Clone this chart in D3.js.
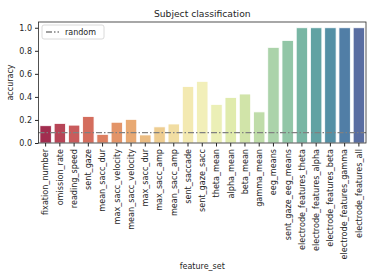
<!DOCTYPE html>
<html>
<head>
<script src="https://cdn.jsdelivr.net/npm/d3@7"></script>
<style>
body { margin: 0; background: white; }
text { font-family: "DejaVu Sans", sans-serif; fill: #262626; }
</style>
</head>
<body>
<script>

var width = 374,
    height = 280;

var features = ["fixation_number", "omission_rate", "reading_speed", "sent_gaze",
                "mean_sacc_dur", "max_sacc_velocity", "mean_sacc_velocity", "max_sacc_dur",
                "max_sacc_amp", "mean_sacc_amp", "sent_saccade", "sent_gaze_sacc",
                "theta_mean", "alpha_mean", "beta_mean", "gamma_mean", "eeg_means",
                "sent_gaze_eeg_means", "electrode_features_theta", "electrode_features_alpha",
                "electrode_features_beta", "electrode_features_gamma", "electrode_features_all"];

var accuracy = [0.15, 0.17, 0.155, 0.23, 0.075, 0.18, 0.205, 0.07, 0.14, 0.165,
                0.49, 0.535, 0.335, 0.395, 0.425, 0.27, 0.83, 0.89,
                1.0, 1.0, 1.0, 1.0, 1.0];

var randomLevel = 0.09;
var yTicks = [0, 0.2, 0.4, 0.6, 0.8, 1.0];

// plot box (note: "top" is reserved on window, so use plot* names)
var plotLeft = 38.5, plotRight = 366, plotTop = 22, plotBottom = 143;

var svg = d3.select("body").append("svg")
            .attr("width", width)
            .attr("height", height);

var x = d3.scaleBand()
          .domain(features)
          .range([plotLeft, plotRight])
          .paddingInner(0.2)
          .paddingOuter(0.1);

var y = d3.scaleLinear()
          .domain([0, 1.05])
          .range([plotBottom, plotTop]);

// seaborn style palette: Spectral sampled, then desaturated
function barColor(i) {
  var c = d3.hsl(d3.interpolateSpectral((i + 1) / (features.length + 1)));
  c.s = c.s * 0.75;
  return c.formatHex();
}

svg.append("g")
   .selectAll("rect")
   .data(accuracy)
   .enter()
   .append("rect")
   .attr("x", function (d, i) { return x(features[i]); })
   .attr("y", function (d) { return y(d); })
   .attr("width", x.bandwidth())
   .attr("height", function (d) { return y(0) - y(d); })
   .style("fill", function (d, i) { return barColor(i); })
   .style("stroke", "white")
   .style("stroke-width", 0.8);

// random baseline
svg.append("line")
   .attr("x1", plotLeft).attr("x2", plotRight)
   .attr("y1", y(randomLevel)).attr("y2", y(randomLevel))
   .style("stroke", "#808080")
   .style("stroke-width", 1.3)
   .style("stroke-dasharray", "6,2,1.5,2");

// axes
var yAxis = d3.axisLeft(y).tickValues(yTicks).tickFormat(d3.format(".1f")).tickSize(3.5).tickPadding(3);
var gy = svg.append("g").attr("transform", "translate(" + plotLeft + ",0)").call(yAxis);
gy.select(".domain").remove();
gy.selectAll("text").style("font-size", "8px");
gy.selectAll("line").style("stroke", "#262626");

var xAxis = d3.axisBottom(x).tickSize(3.5).tickPadding(3);
var gx = svg.append("g").attr("transform", "translate(0," + plotBottom + ")").call(xAxis);
gx.select(".domain").remove();
gx.selectAll("line").style("stroke", "#262626");
gx.selectAll("text")
  .style("font-size", "8.1px")
  .attr("transform", "rotate(-90)")
  .attr("text-anchor", "end")
  .attr("x", -6)
  .attr("y", 0)
  .attr("dy", "0.35em");

// frame
svg.append("rect")
   .attr("x", plotLeft).attr("y", plotTop)
   .attr("width", plotRight - plotLeft).attr("height", plotBottom - plotTop)
   .style("fill", "none")
   .style("stroke", "#262626")
   .style("stroke-width", 0.8);

svg.append("text")
   .attr("x", (plotLeft + plotRight) / 2).attr("y", 17)
   .attr("text-anchor", "middle")
   .style("font-size", "9.2px")
   .text("Subject classification");

svg.append("text")
   .attr("transform", "translate(13," + (plotTop + plotBottom) / 2 + ") rotate(-90)")
   .attr("text-anchor", "middle")
   .style("font-size", "8px")
   .text("accuracy");

svg.append("text")
   .attr("x", (plotLeft + plotRight) / 2).attr("y", 269)
   .attr("text-anchor", "middle")
   .style("font-size", "8px")
   .text("feature_set");

// legend
var lg = svg.append("g").attr("transform", "translate(42,25)");
lg.append("rect")
  .attr("width", 62).attr("height", 14).attr("rx", 2)
  .style("fill", "white").style("fill-opacity", 0.8)
  .style("stroke", "#d0d0d0").style("stroke-width", 0.8);
lg.append("line")
  .attr("x1", 4).attr("x2", 17).attr("y1", 7).attr("y2", 7)
  .style("stroke", "#808080").style("stroke-width", 1.3)
  .style("stroke-dasharray", "6,2,1.5,2");
lg.append("text")
  .attr("x", 23).attr("y", 10)
  .style("font-size", "8px")
  .text("random");

</script>
</body>
</html>
